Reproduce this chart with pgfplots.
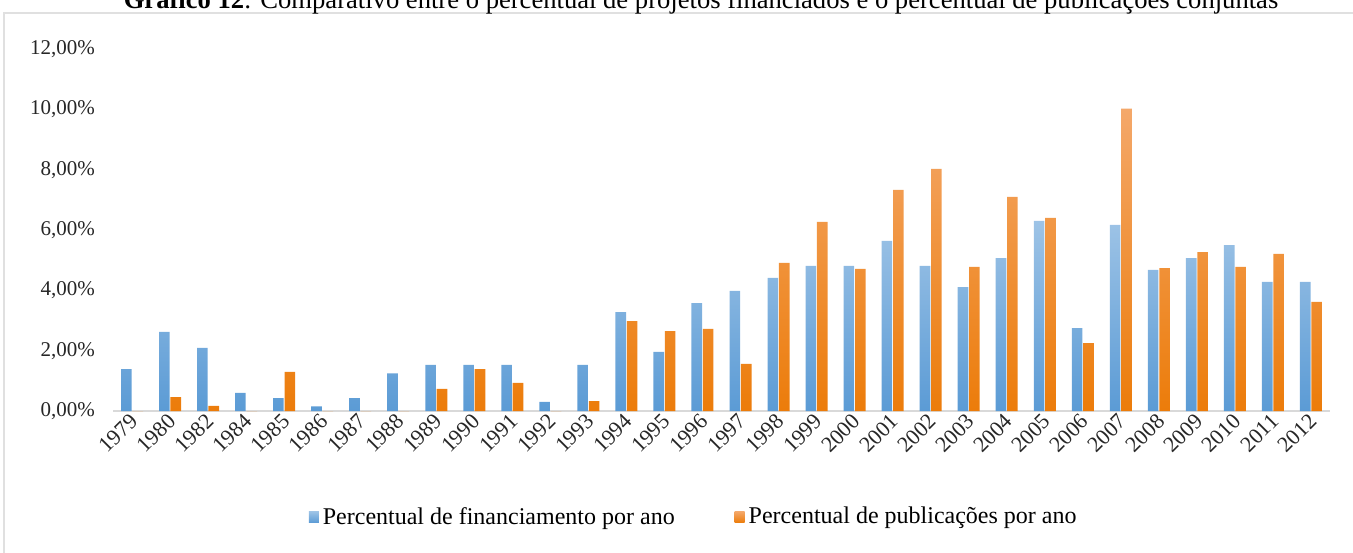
\documentclass[border=0pt]{standalone}
\usepackage{fontspec}
\setmainfont{Liberation Serif}
\usepackage{pgfplots}
\pgfplotsset{compat=1.18}

\definecolor{bluetop}{HTML}{9DC3E6}
\definecolor{bluebot}{HTML}{5B9BD5}
\definecolor{orgtop}{HTML}{F4A86A}
\definecolor{orgbot}{HTML}{EC7C0A}

% anos e percentuais (x = indice da categoria)
\pgfplotstableread{
x fin pub
0 1.39 0
1 2.62 0.46
2 2.09 0.17
3 0.60 0
4 0.43 1.30
5 0.15 0
6 0.43 0
7 1.25 0
8 1.53 0.73
9 1.53 1.39
10 1.53 0.93
11 0.30 0
12 1.53 0.33
13 3.28 2.98
14 1.96 2.65
15 3.58 2.72
16 3.98 1.56
17 4.41 4.91
18 4.81 6.27
19 4.81 4.71
20 5.64 7.33
21 4.81 8.03
22 4.11 4.78
23 5.07 7.10
24 6.30 6.40
25 2.75 2.25
26 6.17 10.02
27 4.68 4.74
28 5.07 5.27
29 5.50 4.78
30 4.28 5.21
31 4.28 3.62
}\dados

\begin{document}
\begin{tikzpicture}
\useasboundingbox (0,0) rectangle (676.5pt,276pt);
\draw[black!12, line width=0.8pt] (2pt,-5pt) rectangle (690pt,269.5pt);
\node[anchor=base, font=\fontsize{13.3}{15}\selectfont, inner sep=0pt] at (350.5pt,271.5pt)
  {\textbf{Gráfico 12}: Comparativo entre o percentual de projetos financiados e o percentual de publicações conjuntas};
\begin{axis}[
  at={(56.5pt,70.5pt)}, anchor=south west,
  scale only axis, width=608.5pt, height=181pt,
  xmin=-0.5, xmax=31.5, ymin=0, ymax=12,
  ybar=0.4pt, bar width=5.3pt,
  axis x line*=bottom, axis y line*=left,
  y axis line style={draw=none},
  x axis line style={draw=black!15, line width=1pt, -},
  major tick length=0pt,
  ytick={0,2,...,12},
  yticklabels={0{,}00\%,2{,}00\%,4{,}00\%,6{,}00\%,8{,}00\%,10{,}00\%,12{,}00\%},
  xtick={0,...,31},
  xticklabels={1979,1980,1982,1984,1985,1986,1987,1988,1989,1990,1991,1992,1993,1994,1995,1996,1997,1998,1999,2000,2001,2002,2003,2004,2005,2006,2007,2008,2009,2010,2011,2012},
  yticklabel style={font=\fontsize{10.5}{12}\selectfont, text=black!85, xshift=-5.5pt},
  xticklabel style={font=\fontsize{11}{12}\selectfont, text=black!85,
    rotate=45, anchor=east, inner sep=1pt, xshift=-0.5pt, yshift=-3pt},
  /pgf/number format/assume math mode=true,
  legend style={at={(0.478,-0.293)}, anchor=center, draw=none, fill=none,
    legend columns=2, font=\fontsize{12}{14}\selectfont,
    /tikz/every even column/.append style={column sep=28pt}},
  legend image code/.code={\path[#1] (0pt,-2.8pt) rectangle (5pt,2.8pt);},
]
\addplot[top color=bluetop, bottom color=bluebot, draw=none] table[x=x,y=fin]{\dados};
\addplot[top color=orgtop, bottom color=orgbot, draw=none] table[x=x,y=pub]{\dados};
\legend{Percentual de financiamento por ano, Percentual de publicações por ano}
\end{axis}
\end{tikzpicture}
\end{document}
